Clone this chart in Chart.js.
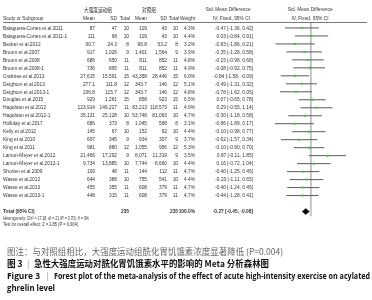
<!DOCTYPE html>
<html><head><meta charset="utf-8">
<script src="https://cdn.jsdelivr.net/npm/chart.js@4/dist/chart.umd.min.js"></script>
<style>html,body{margin:0;padding:0;background:#fff;}#wrap{position:relative;width:372px;height:300px;}</style>
</head><body><div id="wrap"><canvas id="c" width="372" height="300"></canvas></div>
<script>
const studies = ['Balaguera-Cortes et al.2011','Balaguera-Cortes et al.2011-1','Becker et al.2012','Broom et al.2007','Broom et al.2008','Broom et al.2008-1','Crabtree et al.2013','Deighton et al.2013','Deighton et al.2013-1','Douglas et al.2015','Hagobian et al.2012','Hagobian et al.2012-1','Holliday et al.2017','Kelly et al.2012','King et al.2010','King et al.2011','Larson-Meyer et al.2012','Larson-Meyer et al.2012-1','Shorten et al.2009','Wasse et al.2012','Wasse et al.2013','Wasse et al.2013-1'];
const expMean = [87,111,60.7,917,686,736,27615,277.1,236.8,929,123914,35131,686,145,697,981,21466,9734,109,644,455,448];
const expSD = [47,68,24.3,1026,650,895,15591,111.8,115.7,1261,146227,25128,373,67,345,880,17292,13885,48,388,355,315];
const expN = [10,10,8,9,11,11,15,12,12,15,11,10,8,10,9,12,9,10,11,10,11,11];
const ctrlMean = [109,109,96.8,1401,811,811,43358,343.7,343.7,858,83213,53748,1045,152,934,1055,8071,7744,144,755,608,608];
const ctrlSD = [43,43,53.2,1564,852,852,28446,146,146,923,118573,81063,568,62,307,956,11319,8660,112,541,379,379];
const ctrlN = [10,10,8,9,11,11,15,12,12,15,11,10,8,10,9,12,9,10,11,10,11,11];
const weight = [4.3,4.4,3.2,3.9,4.8,4.9,6.0,5.1,4.8,6.5,4.9,4.7,3.1,4.4,3.7,5.3,3.5,4.4,4.7,4.4,4.7,4.7];
const smd = [-0.47,0.03,-0.83,-0.35,-0.15,-0.08,-0.84,-0.49,-0.78,0.07,0.29,-0.30,-0.86,-0.10,-0.62,-0.10,0.87,0.16,-0.40,-0.23,-0.40,-0.44];
const ciLow = [-1.36,-0.84,-1.86,-1.28,-0.98,-0.92,-1.58,-1.31,-1.62,-0.65,-0.55,-1.18,-1.89,-0.98,-1.57,-0.90,-0.11,-0.72,-1.25,-1.11,-1.24,-1.28];
const ciHigh = [0.42,0.91,0.21,0.58,0.68,0.75,-0.09,0.32,0.05,0.78,1.14,0.58,0.17,0.77,0.34,0.70,1.85,1.04,0.45,0.65,0.45,0.41];
const totalN = [235, 235];
const totalWeight = '100.0%';
const totalEffect = [-0.27, -0.45, -0.08];
const heterogeneityText = 'Heterogeneity: Chi\u00b2 = 17.18, df = 21 (P = 0.70); I\u00b2 = 0%';
const overallText = 'Test for overall effect: Z = 2.85 (P = 0.004)';
const captionLines = ['图注：与对照组相比，大强度运动组酰化胃饥饿素浓度显著降低 (P=0.004)','急性大强度运动对酰化胃饥饿素水平的影响的 Meta 分析森林图','Forest plot of the meta-analysis of the effect of acute high-intensity exercise on acylated','ghrelin level'];

const TOTAL_ROW = 24, HET_ROW = 24.8, TEST_ROW = 25.6;
const fmt = v => v.toLocaleString('en-US',{maximumFractionDigits:1});
const f2 = v => v.toFixed(2);
const TF = '"Liberation Sans",Arial,sans-serif';
const SX = 0.78;

const datasets = [];
datasets.push({type:'line',data:[{x:0,y:0.25},{x:0,y:24.6}],borderColor:'#c4c4c4',borderWidth:2,pointRadius:0,order:5});
studies.forEach((s,i)=>{
  datasets.push({type:'line',data:[{x:ciLow[i],y:i+1},{x:ciHigh[i],y:i+1}],borderColor:'#5a5a5a',borderWidth:1,pointRadius:0,order:3});
});
datasets.push({type:'scatter',data:smd.map((v,i)=>({x:v,y:i+1})),pointStyle:'rect',pointRadius:1.4,backgroundColor:'#2fd02f',borderColor:'#2fd02f',borderWidth:0,order:1});
datasets.push({type:'line',data:[{x:totalEffect[1],y:TOTAL_ROW},{x:totalEffect[0],y:TOTAL_ROW-0.38},{x:totalEffect[2],y:TOTAL_ROW},{x:totalEffect[0],y:TOTAL_ROW+0.38},{x:totalEffect[1],y:TOTAL_ROW}],borderColor:'#000',backgroundColor:'#000',borderWidth:0.5,pointRadius:0,fill:'shape',order:1});

function T(ctx,t,x,y,align){ctx.save();ctx.translate(x,y);ctx.scale(SX,1);ctx.textAlign=align||'left';ctx.fillText(t,0,0);ctx.restore();}
function fitText(ctx,t,x,y,w){const m=ctx.measureText(t).width;ctx.save();ctx.translate(x,y);ctx.textAlign='left';ctx.scale(Math.min(1,w/m),1);ctx.fillText(t,0,0);ctx.restore();}

const tablePlugin = {id:'table',afterDraw(chart){
  const ctx=chart.ctx, ys=chart.scales.y;
  ctx.save();
  ctx.fillStyle='#333';ctx.textBaseline='middle';
  ctx.font='6px "Noto Sans CJK SC",sans-serif';
  T(ctx,'大强度运动组',98,ys.getPixelForValue(-1.3),'center');
  T(ctx,'对照组',149,ys.getPixelForValue(-1.3),'center');
  ctx.font='6.2px '+TF;
  T(ctx,'Std. Mean Difference',228,ys.getPixelForValue(-1.3),'center');
  T(ctx,'Std. Mean Difference',310,ys.getPixelForValue(-1.3),'center');
  const hy=ys.getPixelForValue(-0.2);
  T(ctx,'Study or Subgroup',3,hy);
  T(ctx,'Mean',95,hy,'right');T(ctx,'SD',117,hy,'right');T(ctx,'Total',130,hy,'right');
  T(ctx,'Mean',147,hy,'right');T(ctx,'SD',167,hy,'right');T(ctx,'Total',179,hy,'right');T(ctx,'Weight',195,hy,'right');
  T(ctx,'IV, Fixed, 95% CI',250,hy,'right');T(ctx,'IV, Fixed, 95% CI',310,hy,'center');
  ctx.strokeStyle='#555';ctx.lineWidth=0.8;
  const ly=Math.round(ys.getPixelForValue(0.28))+0.5;
  ctx.beginPath();ctx.moveTo(3,ly);ctx.lineTo(367,ly);ctx.stroke();
  studies.forEach((s,i)=>{
    const y=ys.getPixelForValue(i+1);
    T(ctx,s,3,y);
    T(ctx,fmt(expMean[i]),95,y,'right');T(ctx,fmt(expSD[i]),117,y,'right');T(ctx,String(expN[i]),129,y,'right');
    T(ctx,fmt(ctrlMean[i]),147,y,'right');T(ctx,fmt(ctrlSD[i]),167,y,'right');T(ctx,String(ctrlN[i]),178,y,'right');
    T(ctx,weight[i].toFixed(1)+'%',195,y,'right');
    T(ctx,f2(smd[i])+' ['+f2(ciLow[i])+', '+f2(ciHigh[i])+']',253,y,'right');
  });
  const ty=ys.getPixelForValue(TOTAL_ROW);
  ctx.font='bold 6.2px '+TF;
  T(ctx,'Total (95% CI)',3,ty);
  T(ctx,String(totalN[0]),129,ty,'right');T(ctx,String(totalN[1]),178,ty,'right');T(ctx,totalWeight,195,ty,'right');
  T(ctx,f2(totalEffect[0])+' ['+f2(totalEffect[1])+', '+f2(totalEffect[2])+']',253,ty,'right');
  ctx.font='5.8px '+TF;
  fitText(ctx,heterogeneityText,3,ys.getPixelForValue(HET_ROW),86);
  fitText(ctx,overallText,3,ys.getPixelForValue(TEST_ROW),75);
  ctx.fillStyle='#666';ctx.font='8.6px "Noto Sans CJK SC",sans-serif';
  fitText(ctx,captionLines[0],7,252,276);
  ctx.fillStyle='#111';ctx.font='bold 8.6px "Noto Sans CJK SC",sans-serif';
  ctx.textAlign='left';ctx.fillText('图 3',7,264);
  ctx.fillStyle='#999';ctx.font='8.6px "Noto Sans CJK SC",sans-serif';ctx.fillText('|',27,264);
  ctx.fillStyle='#111';ctx.font='bold 8.6px "Noto Sans CJK SC",sans-serif';
  fitText(ctx,captionLines[1],34,264,235);
  ctx.font='bold 8.4px "Open Sans",sans-serif';
  fitText(ctx,'Figure 3',7,276.5,33);
  ctx.fillStyle='#999';ctx.font='8.4px "Open Sans",sans-serif';ctx.textAlign='left';ctx.fillText('|',45,276.5);
  ctx.fillStyle='#111';ctx.font='bold 8.4px "Open Sans",sans-serif';
  fitText(ctx,captionLines[2],54,276.5,316);
  fitText(ctx,captionLines[3],7,288.5,48);
  ctx.restore();
}};

new Chart(document.getElementById('c'),{
  data:{datasets},
  options:{responsive:false,animation:false,
    layout:{padding:{left:253.7,right:3.7,top:0.7,bottom:72.5}},
    scales:{x:{type:'linear',min:-3,max:3,display:false},y:{type:'linear',min:-2,max:26,reverse:true,display:false}},
    plugins:{legend:{display:false},tooltip:{enabled:false}}},
  plugins:[tablePlugin]
});
</script></body></html>
